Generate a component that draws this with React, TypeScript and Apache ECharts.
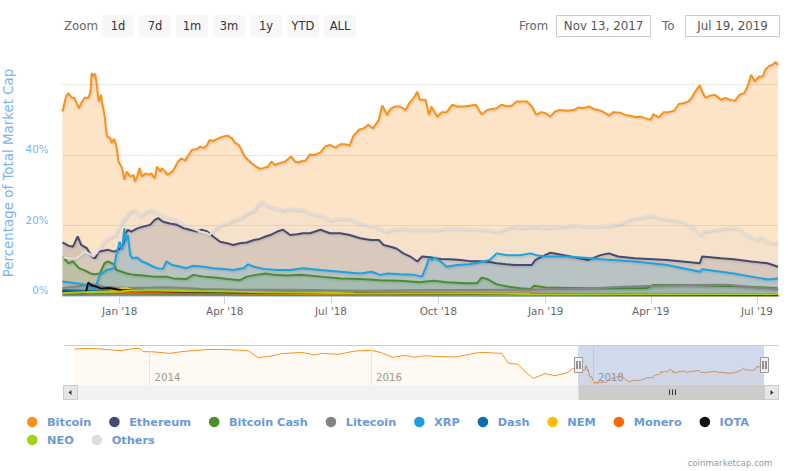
import React, { useEffect, useRef } from 'react';
import * as echarts from 'echarts';

const DAY = 86400000;
const START = Date.UTC(2017, 10, 13);
const END = Date.UTC(2019, 6, 19);
const NAV_MIN = Date.UTC(2013, 2, 25);
const NAV_MAX = Date.UTC(2019, 8, 4);

const seriesNames = ['Bitcoin', 'Ethereum', 'Bitcoin Cash', 'Litecoin', 'XRP', 'Dash', 'NEM', 'Monero', 'IOTA', 'NEO', 'Others'];
const seriesColors = ['#f7931a', '#454a75', '#478f2f', '#838383', '#1ba1e2', '#0b6db3', '#fbbd08', '#ff6600', '#111111', '#9fd40f', '#dddddd'];

// x values: days since Nov 13, 2017; y values: % of total market cap
const btcDays = [0, 3, 5, 8, 10, 14, 16, 19, 22, 24, 25, 26, 28, 29, 31, 33, 34, 36, 38, 41, 42, 44, 46, 48, 51, 53, 55, 58, 61, 62, 64, 66, 68, 71, 74, 76, 79, 81, 84, 85, 88, 90, 94, 96, 99, 102, 105, 108, 111, 115, 118, 121, 124, 126, 129, 134, 138, 142, 145, 148, 151, 154, 156, 159, 162, 166, 169, 172, 176, 179, 182, 186, 191, 194, 196, 199, 202, 206, 208, 212, 216, 221, 225, 229, 234, 238, 242, 246, 249, 254, 258, 262, 266, 271, 274, 278, 281, 285, 289, 294, 297, 301, 304, 306, 311, 314, 316, 321, 325, 329, 334, 338, 344, 349, 354, 359, 364, 368, 372, 376, 381, 385, 389, 394, 398, 402, 406, 410, 414, 418, 422, 426, 432, 438, 442, 446, 451, 455, 461, 465, 468, 472, 478, 482, 486, 491, 495, 499, 504, 506, 511, 515, 519, 524, 528, 532, 536, 539, 542, 546, 549, 551, 555, 559, 564, 568, 572, 576, 580, 584, 587, 590, 593, 597, 600, 602, 605, 608, 611, 613];
const btcPct = [52.4, 56.6, 57.6, 56.2, 56.3, 53.3, 54.7, 56.3, 56.2, 58.0, 63.3, 62.3, 63.1, 60.9, 55.2, 57.1, 54.7, 51.4, 45.3, 44.8, 43.4, 44.6, 42.9, 38.2, 36.3, 33.0, 35.3, 33.9, 34.4, 32.5, 33.9, 36.3, 33.9, 34.8, 34.4, 34.8, 33.4, 36.7, 35.3, 36.3, 35.3, 34.4, 35.3, 36.3, 38.2, 39.1, 38.4, 40.1, 41.5, 41.7, 42.4, 42.0, 42.9, 44.3, 44.0, 44.8, 45.3, 45.5, 44.8, 43.4, 42.9, 41.0, 39.6, 38.6, 37.7, 36.7, 36.1, 36.3, 36.7, 38.2, 37.2, 37.7, 38.2, 39.1, 39.6, 38.2, 37.9, 38.4, 38.4, 40.2, 40.0, 40.8, 42.4, 42.9, 42.1, 43.1, 43.1, 42.7, 45.3, 47.2, 47.6, 48.6, 47.6, 50.0, 54.1, 51.4, 53.1, 53.8, 53.8, 52.8, 54.7, 56.3, 58.0, 55.7, 55.7, 51.4, 53.8, 50.9, 52.2, 52.2, 54.3, 53.8, 53.8, 54.0, 54.3, 51.6, 52.8, 53.1, 53.3, 54.3, 53.8, 54.1, 55.2, 55.2, 55.2, 53.8, 51.4, 52.2, 51.9, 50.9, 52.4, 52.8, 52.6, 52.8, 53.5, 53.3, 53.8, 53.1, 52.6, 51.9, 51.2, 52.2, 52.0, 51.4, 51.2, 50.8, 50.9, 50.5, 50.0, 51.6, 50.7, 52.2, 52.2, 52.6, 54.5, 54.7, 55.2, 56.2, 58.0, 59.8, 57.3, 56.3, 56.9, 57.1, 55.7, 56.2, 55.7, 55.4, 57.1, 57.6, 59.5, 62.8, 60.9, 62.3, 62.3, 64.2, 65.2, 65.6, 66.4, 65.6];

const ethDays = [0, 5, 9, 13, 16, 21, 25, 28, 31, 34, 39, 44, 48, 52, 54, 56, 59, 64, 69, 75, 79, 82, 86, 92, 98, 104, 109, 115, 119, 124, 129, 135, 141, 146, 152, 158, 164, 169, 174, 178, 184, 189, 195, 201, 206, 212, 221, 229, 238, 246, 255, 264, 271, 275, 281, 286, 292, 298, 304, 308, 315, 324, 332, 341, 349, 358, 367, 372, 380, 387, 395, 402, 405, 409, 418, 432, 450, 461, 468, 476, 490, 518, 546, 548, 564, 575, 590, 604, 613];
const ethPct = [15.2, 14.3, 14.0, 16.9, 14.5, 13.5, 11.2, 10.7, 12.6, 12.8, 13.1, 12.6, 13.1, 14.5, 17.8, 18.8, 18.3, 19.2, 19.7, 20.2, 21.6, 22.1, 21.1, 20.6, 20.2, 19.2, 18.8, 18.3, 18.8, 18.3, 16.9, 15.4, 15.0, 14.5, 15.0, 15.2, 15.9, 16.2, 16.9, 17.3, 18.3, 18.8, 17.3, 17.5, 17.8, 17.8, 18.8, 17.8, 17.8, 17.3, 16.4, 15.9, 15.9, 14.5, 14.0, 13.5, 12.1, 11.2, 9.8, 11.2, 11.0, 10.5, 10.4, 10.2, 9.9, 9.9, 9.6, 9.3, 9.0, 8.8, 8.8, 8.8, 10.2, 10.9, 12.3, 11.4, 10.2, 11.6, 12.1, 11.2, 10.7, 10.2, 9.3, 11.2, 10.7, 10.4, 9.8, 9.3, 8.3];

const bchDays = [0, 5, 9, 14, 18, 24, 28, 32, 36, 39, 44, 46, 51, 55, 61, 69, 78, 89, 95, 106, 112, 121, 132, 141, 152, 158, 166, 174, 181, 192, 204, 221, 238, 255, 272, 289, 306, 318, 329, 346, 355, 359, 364, 372, 381, 392, 401, 404, 414, 450, 500, 506, 540, 580, 613];
const bchPct = [11.2, 9.3, 9.8, 7.9, 7.4, 6.4, 6.2, 6.4, 9.3, 9.8, 9.0, 7.4, 6.9, 6.4, 6.0, 5.8, 5.5, 5.5, 5.0, 4.8, 6.0, 5.5, 5.2, 4.8, 4.5, 5.5, 6.0, 6.4, 6.0, 5.8, 6.0, 5.5, 5.0, 4.8, 4.5, 4.3, 3.9, 4.3, 3.9, 3.6, 3.6, 5.2, 4.8, 3.3, 2.7, 2.2, 2.0, 2.9, 2.4, 2.2, 2.2, 3.1, 3.1, 2.8, 2.2];

const ltcDays = [0, 15, 25, 35, 45, 60, 90, 120, 150, 200, 250, 300, 350, 400, 450, 480, 510, 540, 570, 590, 613];
const ltcPct = [2.3, 2.8, 3.4, 2.6, 2.4, 2.3, 2.5, 2.0, 1.8, 1.8, 1.5, 1.6, 1.7, 1.8, 2.1, 2.6, 2.9, 3.1, 3.2, 2.5, 2.0];

const xrpDays = [0, 12, 21, 28, 32, 38, 44, 46, 49, 51, 53, 54, 56, 58, 60, 64, 68, 72, 76, 81, 86, 89, 94, 101, 106, 112, 121, 129, 138, 146, 155, 159, 164, 172, 184, 195, 206, 221, 238, 255, 265, 272, 279, 289, 301, 308, 311, 314, 316, 319, 324, 329, 338, 349, 358, 366, 372, 381, 392, 401, 406, 414, 432, 450, 461, 490, 518, 546, 548, 575, 590, 604, 613];
const xrpPct = [4.1, 3.6, 3.1, 2.2, 6.0, 7.4, 7.9, 11.6, 15.4, 13.1, 19.2, 15.4, 17.3, 11.6, 10.7, 10.9, 9.8, 9.3, 8.6, 7.9, 7.7, 9.8, 8.8, 8.3, 7.9, 8.6, 8.3, 7.9, 7.7, 7.4, 7.9, 9.0, 8.3, 7.7, 7.4, 7.4, 7.9, 7.4, 6.9, 6.4, 6.9, 6.0, 6.4, 6.2, 6.0, 5.5, 7.9, 10.7, 10.2, 10.9, 9.8, 8.3, 8.8, 9.0, 9.6, 10.2, 12.1, 11.6, 11.6, 12.1, 11.6, 11.2, 11.2, 10.8, 10.4, 9.8, 8.8, 6.9, 7.6, 6.4, 5.5, 4.7, 5.0];

const dashDays = [0, 30, 60, 120, 200, 300, 400, 500, 613];
const dashPct = [1.6, 1.4, 1.2, 1.1, 0.9, 0.8, 0.6, 0.5, 0.4];

const nemDays = [0, 40, 50, 55, 62, 70, 100, 200, 300, 400, 613];
const nemPct = [0.9, 1.3, 2.2, 2.3, 1.4, 1.2, 1.0, 0.6, 0.4, 0.3, 0.2];

const xmrDays = [0, 60, 150, 300, 450, 613];
const xmrPct = [1.0, 0.9, 0.8, 0.8, 0.6, 0.5];

const iotaDays = [0, 20, 22, 25, 28, 33, 40, 50, 60, 70, 100, 150, 250, 350, 450, 613];
const iotaPct = [1.2, 1.0, 3.8, 3.0, 2.8, 2.1, 2.3, 1.7, 1.6, 1.5, 1.3, 1.1, 0.8, 0.6, 0.5, 0.3];

const neoDays = [0, 50, 60, 90, 150, 250, 400, 613];
const neoPct = [0.9, 1.3, 1.6, 1.5, 1.2, 0.8, 0.6, 0.5];

const othDays = [0, 6, 12, 19, 24, 26, 29, 32, 35, 41, 45, 49, 54, 58, 62, 66, 71, 75, 79, 84, 88, 94, 99, 105, 111, 118, 124, 126, 131, 135, 141, 146, 152, 158, 164, 168, 171, 174, 178, 184, 189, 195, 201, 206, 212, 221, 229, 238, 246, 255, 264, 272, 276, 284, 292, 301, 309, 318, 329, 341, 352, 364, 374, 384, 395, 404, 414, 426, 438, 452, 466, 478, 486, 495, 504, 508, 515, 524, 532, 541, 546, 549, 558, 569, 578, 584, 589, 594, 598, 604, 609, 613];
const othPct = [10.9, 10.7, 10.7, 12.6, 11.8, 11.2, 12.1, 13.5, 15.4, 16.9, 17.3, 20.2, 22.5, 24.0, 24.4, 22.5, 24.0, 24.4, 24.0, 23.0, 22.5, 22.1, 21.1, 20.2, 19.2, 18.3, 17.8, 17.3, 19.2, 20.2, 20.6, 21.6, 22.1, 23.5, 24.4, 26.3, 26.8, 25.9, 25.4, 24.9, 24.4, 24.9, 24.4, 24.6, 23.5, 23.0, 21.6, 22.1, 22.0, 20.6, 20.0, 19.2, 18.3, 19.0, 19.2, 18.8, 19.0, 18.8, 19.2, 19.2, 19.0, 18.8, 18.3, 19.7, 19.4, 19.7, 19.4, 19.7, 20.2, 19.7, 20.0, 20.6, 21.9, 22.3, 23.0, 22.5, 21.9, 21.6, 21.1, 19.2, 17.3, 18.3, 18.8, 19.4, 19.4, 17.8, 16.9, 15.9, 16.9, 15.4, 15.0, 15.3];

// Navigator: Bitcoin dominance history before the main range
const navDates = ['2013-04-28', '2013-06-24', '2013-08-18', '2013-10-01', '2013-11-03', '2013-11-30', '2013-12-11', '2014-01-08', '2014-03-09', '2014-04-17', '2014-07-03', '2014-08-27', '2014-11-22', '2014-12-25', '2015-02-07', '2015-03-12', '2015-05-17', '2015-06-30', '2015-07-22', '2015-09-15', '2015-11-09', '2016-01-02', '2016-02-04', '2016-03-13', '2016-04-21', '2016-05-24', '2016-06-26', '2016-07-29', '2016-10-08', '2016-12-24', '2017-03-06', '2017-03-28', '2017-04-30', '2017-05-22', '2017-06-19', '2017-07-27', '2017-08-29', '2017-10-07', '2017-10-28'];
const navPct = [93, 94.2, 91.8, 90, 93.5, 93.9, 88.3, 88.3, 85.4, 88.4, 91.8, 92.4, 90.1, 77.8, 80.7, 84.8, 87.2, 82.5, 85.4, 83.7, 89.5, 90.7, 86.6, 78.4, 81.9, 78.4, 81.3, 80.2, 79, 87.2, 85.4, 68.5, 66.2, 53.3, 41.7, 49.9, 46.4, 51, 59];

const xTickDates = ['2018-01-01', '2018-04-01', '2018-07-01', '2018-10-01', '2019-01-01', '2019-04-01', '2019-07-01'];
const navTickDates = ['2014-01-01', '2016-01-01', '2018-01-01'];
const rangeButtons = ['1d', '7d', '1m', '3m', '1y', 'YTD', 'ALL'];
const fromLabel = 'Nov 13, 2017';
const toLabel = 'Jul 19, 2019';
const MONTHS = ['Jan', 'Feb', 'Mar', 'Apr', 'May', 'Jun', 'Jul', 'Aug', 'Sep', 'Oct', 'Nov', 'Dec'];

const seriesDays = [btcDays, ethDays, bchDays, ltcDays, xrpDays, dashDays, nemDays, xmrDays, iotaDays, neoDays, othDays];
const seriesPct = [btcPct, ethPct, bchPct, ltcPct, xrpPct, dashPct, nemPct, xmrPct, iotaPct, neoPct, othPct];

const FONT = 'DejaVu Sans';

function pairs(days: number[], vals: number[]) {
  return days.map((d, i) => [START + d * DAY, vals[i]]);
}

export default function App() {
  const ref = useRef<HTMLDivElement>(null);
  useEffect(() => {
    document.body.style.margin = '0';
    const chart = echarts.init(ref.current!, null, { renderer: 'svg' });
    const mainSeries = seriesNames.map((name, i) => ({
      name,
      type: 'line',
      xAxisIndex: 0,
      yAxisIndex: 0,
      data: pairs(seriesDays[i], seriesPct[i]),
      showSymbol: false,
      symbol: 'none',
      color: seriesColors[i],
      lineStyle: {
        width: 2,
        color: seriesColors[i],
        shadowColor: 'rgba(0,0,0,0.15)',
        shadowBlur: 2,
        shadowOffsetX: 1,
        shadowOffsetY: 1,
      },
      areaStyle: { color: seriesColors[i], opacity: i === 0 ? 0.25 : 0.2 },
      emphasis: { disabled: true },
      silent: true,
    }));
    const navData = navDates
      .map((s, i) => [Date.parse(s), navPct[i]])
      .concat(pairs(btcDays, btcPct));

    const option: any = {
      animation: false,
      textStyle: { fontFamily: FONT },
      grid: [
        { left: 62.5, top: 60, width: 715.5, height: 236, containLabel: false, outerBoundsMode: 'none' },
        { left: 64, top: 345, width: 714.3, height: 40, containLabel: false, outerBoundsMode: 'none' },
      ],
      xAxis: [
        {
          type: 'value',
          gridIndex: 0,
          min: START,
          max: END,
          axisLine: { lineStyle: { color: '#ccd6eb' } },
          axisTick: {
            show: true,
            length: 8,
            customValues: xTickDates.map((s) => Date.parse(s)),
            lineStyle: { color: '#ccd6eb' },
          },
          axisLabel: {
            customValues: xTickDates.map((s) => Date.parse(s)),
            formatter: (v: number) => {
              const d = new Date(v);
              return MONTHS[d.getUTCMonth()] + " '" + String(d.getUTCFullYear()).slice(2);
            },
            color: '#666666',
            fontSize: 10.4,
            margin: 10,
            fontFamily: FONT,
          },
          splitLine: { show: false },
        },
        {
          type: 'value',
          gridIndex: 1,
          min: NAV_MIN,
          max: NAV_MAX,
          axisLine: { show: false },
          axisTick: { show: false },
          axisLabel: {
            inside: true,
            customValues: navTickDates.map((s) => Date.parse(s)),
            formatter: (v: number) => String(new Date(v).getUTCFullYear()),
            color: '#999999',
            fontSize: 10.2,
            align: 'left',
            padding: [0, 0, 0, 5],
            margin: 3,
            fontFamily: FONT,
          },
          splitLine: { show: false },
        },
      ],
      yAxis: [
        {
          type: 'value',
          gridIndex: 0,
          min: 0,
          max: 67,
          interval: 20,
          name: 'Percentage of Total Market Cap',
          nameLocation: 'middle',
          nameGap: 44,
          nameTextStyle: { color: '#7cb5ec', fontSize: 13.4, fontFamily: FONT, padding: [0, 0, 0, 10] },
          axisLine: { show: false },
          axisTick: { show: false },
          axisLabel: {
            formatter: (v: number) => (v <= 40 && v % 20 === 0 ? v + '%' : ''),
            color: '#7cb5ec',
            fontSize: 10.3,
            margin: 14,
            verticalAlign: 'bottom',
            lineHeight: 12,
            fontFamily: FONT,
          },
          splitLine: { show: true, showMinLine: false, showMaxLine: false, lineStyle: { color: '#e6e6e6' } },
        },
        { type: 'value', gridIndex: 1, min: 30, max: 100, show: false, splitLine: { show: false } },
      ],
      legend: {
        data: seriesNames,
        left: 27,
        top: 416,
        right: 0,
        padding: 0,
        icon: 'circle',
        itemWidth: 10.5,
        itemHeight: 10.5,
        itemGap: 6,
        selectedMode: false,
        textStyle: {
          color: '#6a9ad4',
          fontWeight: 'bold',
          fontSize: 11.3,
          fontFamily: FONT,
          lineHeight: 12,
          padding: [0, 11.9, 0, 4.5],
        },
      },
      series: [
        ...mainSeries,
        {
          name: 'navigator',
          type: 'line',
          xAxisIndex: 1,
          yAxisIndex: 1,
          data: navData,
          showSymbol: false,
          symbol: 'none',
          silent: true,
          lineStyle: { width: 1, color: '#f7931a' },
          areaStyle: { color: '#f7931a', opacity: 0.05, origin: 'start' },
          markLine: {
            silent: true,
            symbol: 'none',
            label: { show: false },
            lineStyle: { color: '#e6e6e6', type: 'solid', width: 1 },
            data: navTickDates.map((s) => ({ xAxis: Date.parse(s) })),
          },
        },
      ],
    };
    chart.setOption(option);

    const xL = chart.convertToPixel({ xAxisIndex: 1 }, START) as number;
    const xR = chart.convertToPixel({ xAxisIndex: 1 }, END) as number;
    const txt = (x: number, y: number, text: string, align: string, color: string, size: number) => ({
      type: 'text',
      x,
      y,
      style: { text, align, verticalAlign: 'middle', fill: color, fontSize: size, fontFamily: FONT },
      silent: true,
    });
    const g: any[] = [];
    g.push(txt(64, 26, 'Zoom', 'left', '#666666', 11.8));
    rangeButtons.forEach((b, i) => {
      g.push({ type: 'rect', shape: { x: 102 + 37 * i, y: 15, width: 32, height: 22, r: 2 }, style: { fill: '#f7f7f7' }, silent: true });
      g.push(txt(118 + 37 * i, 26, b, 'center', '#333333', 11.5));
    });
    g.push(txt(519, 26, 'From', 'left', '#666666', 11.8));
    g.push({ type: 'rect', shape: { x: 556.5, y: 15.5, width: 94, height: 21 }, style: { fill: '#fff', stroke: '#cccccc', lineWidth: 1 }, silent: true });
    g.push(txt(603.5, 26, fromLabel, 'center', '#555555', 11.8));
    g.push(txt(662, 26, 'To', 'left', '#666666', 11.8));
    g.push({ type: 'rect', shape: { x: 685.5, y: 15.5, width: 94, height: 21 }, style: { fill: '#fff', stroke: '#cccccc', lineWidth: 1 }, silent: true });
    g.push(txt(732.5, 26, toLabel, 'center', '#555555', 11.8));

    // navigator mask & outline
    g.push({ type: 'rect', z: 10, shape: { x: xL, y: 345, width: xR - xL, height: 40 }, style: { fill: 'rgba(102,133,194,0.3)' }, silent: true });
    g.push({ type: 'line', z: 11, shape: { x1: 64, y1: 345.5, x2: 778.3, y2: 345.5 }, style: { stroke: '#cccccc', lineWidth: 1 }, silent: true });
    // scrollbar
    g.push({ type: 'rect', z: 10, shape: { x: 64, y: 385, width: 714.3, height: 15 }, style: { fill: '#f2f2f2' }, silent: true });
    g.push({ type: 'rect', z: 11, shape: { x: 579, y: 385.5, width: 186, height: 14 }, style: { fill: '#cccccc', stroke: '#cccccc' }, silent: true });
    [669, 672, 675].forEach((x) => {
      g.push({ type: 'line', z: 12, shape: { x1: x + 0.5, y1: 389.5, x2: x + 0.5, y2: 395 }, style: { stroke: '#333333', lineWidth: 1 }, silent: true });
    });
    g.push({ type: 'rect', z: 12, shape: { x: 63.5, y: 385.5, width: 14, height: 14 }, style: { fill: '#e6e6e6', stroke: '#cccccc', lineWidth: 1 }, silent: true });
    g.push({ type: 'polygon', z: 13, shape: { points: [[68.5, 392.5], [71.5, 390], [71.5, 395]] }, style: { fill: '#333333' }, silent: true });
    g.push({ type: 'rect', z: 12, shape: { x: 764.5, y: 385.5, width: 14, height: 14 }, style: { fill: '#e6e6e6', stroke: '#cccccc', lineWidth: 1 }, silent: true });
    g.push({ type: 'polygon', z: 13, shape: { points: [[773.5, 392.5], [770.5, 390], [770.5, 395]] }, style: { fill: '#333333' }, silent: true });
    // handles
    [xL, xR].forEach((x) => {
      const cx = Math.round(x) + 0.5;
      g.push({ type: 'rect', z: 14, shape: { x: cx - 4, y: 357.5, width: 8, height: 15 }, style: { fill: '#f2f2f2', stroke: '#999999', lineWidth: 1 }, silent: true });
      g.push({ type: 'line', z: 15, shape: { x1: cx - 1.5, y1: 361, x2: cx - 1.5, y2: 369 }, style: { stroke: '#333333', lineWidth: 1 }, silent: true });
      g.push({ type: 'line', z: 15, shape: { x1: cx + 1.5, y1: 361, x2: cx + 1.5, y2: 369 }, style: { stroke: '#333333', lineWidth: 1 }, silent: true });
    });
    g.push(txt(772.5, 463, 'coinmarketcap.com', 'right', '#999999', 8.6));
    chart.setOption({ graphic: g });

    return () => chart.dispose();
  }, []);
  return <div ref={ref} style={{ width: 789, height: 471 }} />;
}
